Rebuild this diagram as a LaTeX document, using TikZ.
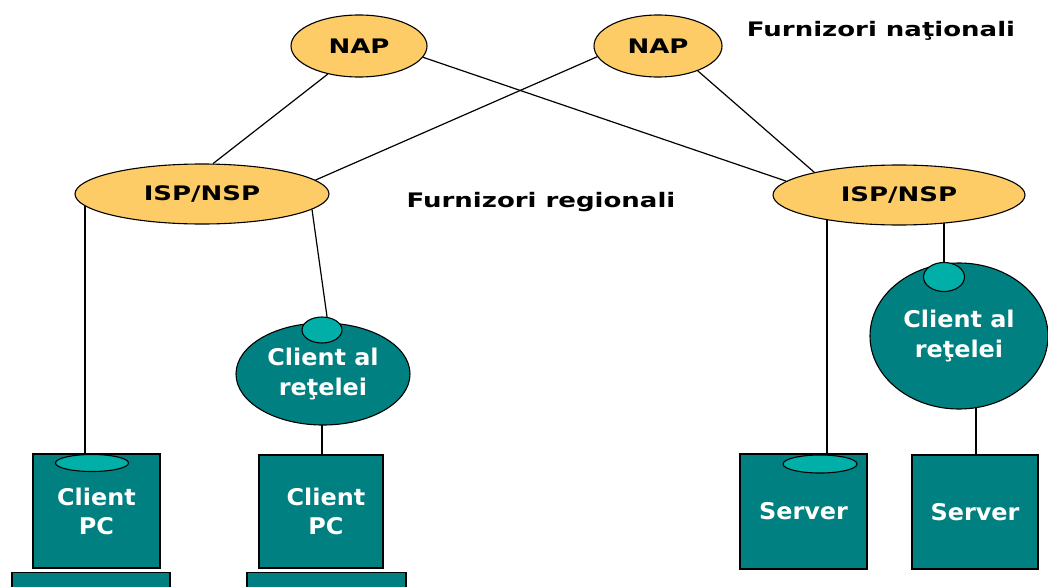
\documentclass[tikz,border=0pt]{standalone}
\usepackage{fontspec}
\usetikzlibrary{shapes.geometric}
\newfontfamily\lblfont[FakeStretch=1.3]{DejaVu Sans}
\newfontfamily\boxfont[FakeStretch=1.04]{DejaVu Sans}
\definecolor{napyellow}{HTML}{FDCC66}
\definecolor{tealdark}{HTML}{008080}
\definecolor{teallight}{HTML}{00B0A8}
\pgfdeclarelayer{paper}
\pgfdeclarelayer{wires}
\pgfsetlayers{paper,wires,main}
\begin{document}
\begin{tikzpicture}[x=1pt,y=-1pt,
  yell/.style={ellipse,draw=black,line width=1.1pt,fill=napyellow,inner sep=0pt,
    font=\lblfont\bfseries\fontsize{20}{24}\selectfont},
  lbl/.style={inner sep=0pt,anchor=base,font=\lblfont\bfseries\fontsize{20}{24}\selectfont},
  tealell/.style={ellipse,draw=black,line width=1.1pt,fill=tealdark,inner sep=0pt,
    text=white,align=center,font=\boxfont\bfseries\fontsize{23}{30}\selectfont},
  portell/.style={ellipse,draw=black,line width=1.1pt,fill=teallight,inner sep=0pt},
  tbox/.style={rectangle,draw=black,line width=1.3pt,fill=tealdark,inner sep=0pt,
    text=white,align=center,font=\boxfont\bfseries\fontsize{23}{29}\selectfont},
  wire/.style={draw=black,line width=1.2pt}]
\useasboundingbox (0,0) rectangle (1048,586);
\begin{pgfonlayer}{paper}
\fill[white] (0,0) rectangle (1048,586);
\end{pgfonlayer}

% top level
\node[yell,minimum width=136pt,minimum height=62pt] (nap1) at (359,46) {NAP};
\node[yell,minimum width=128pt,minimum height=62pt] (nap2) at (658,46) {NAP};
\node[lbl] (natl) at (881,37) {Furnizori naţionali};

% regional level
\node[yell,minimum width=254pt,minimum height=60pt] (ispL) at (202,194) {ISP/NSP};
\node[yell,minimum width=252pt,minimum height=60pt] (ispR) at (899,195) {ISP/NSP};
\node[lbl] (regl) at (541,207) {Furnizori regionali};

% network clients
\node[tealell,minimum width=174pt,minimum height=102pt] (cliL) at (323,374) {Client al\\reţelei};
\node[tealell,minimum width=178pt,minimum height=146pt] (cliR) at (959,336) {Client al\\reţelei};
\node[portell,minimum width=40pt,minimum height=26pt] (portL) at (322,330) {};
\node[portell,minimum width=41pt,minimum height=29pt] (portR) at (944,277) {};

% machines
\node[tbox,minimum width=158pt,minimum height=30pt,anchor=north] (base1) at (91,572) {};
\node[tbox,minimum width=159pt,minimum height=30pt,anchor=north] (base2) at (326.5,572) {};
\node[tbox,minimum width=127pt,minimum height=114pt] (pc1) at (96.5,511) {\raisebox{-4pt}{\parbox{120pt}{\centering Client\\PC}}};
\node[tbox,minimum width=124pt,minimum height=113pt] (pc2) at (321,511.5) {\hspace*{10pt}Client\\\hspace*{10pt}PC};
\node[tbox,minimum width=127pt,minimum height=115pt] (srv1) at (803.5,511.5) {Server};
\node[tbox,minimum width=126pt,minimum height=114pt] (srv2) at (975,512) {Server};
\node[portell,minimum width=73pt,minimum height=17pt] (port1) at (92,463) {};
\node[portell,minimum width=74pt,minimum height=18pt] (port3) at (820,464) {};

\coordinate (w1) at (85,454);
\coordinate (w2) at (322,455);
\coordinate (w3) at (827,455);
\coordinate (w5) at (976,455);

\begin{pgfonlayer}{wires}
\draw[wire] (nap1.222) -- (ispL.70);
\draw[wire] (nap1.350) -- (ispR.173.7);
\draw[wire] (nap2.190.4) -- (ispL.7);
\draw[wire] (nap2.328) -- (ispR.165.8);
\draw[wire] (w1) -- (w1 |- ispL.center);
\draw[wire] (ispL.-8) -- (portL.69);
\draw[wire] (w2) -- (w2 |- cliL.center);
\draw[wire] (w3) -- (w3 |- ispR.center);
\draw[wire] (portR.center) -- (portR.center |- ispR.center);
\draw[wire] (w5) -- (w5 |- cliR.center);
\end{pgfonlayer}
\end{tikzpicture}
\end{document}
